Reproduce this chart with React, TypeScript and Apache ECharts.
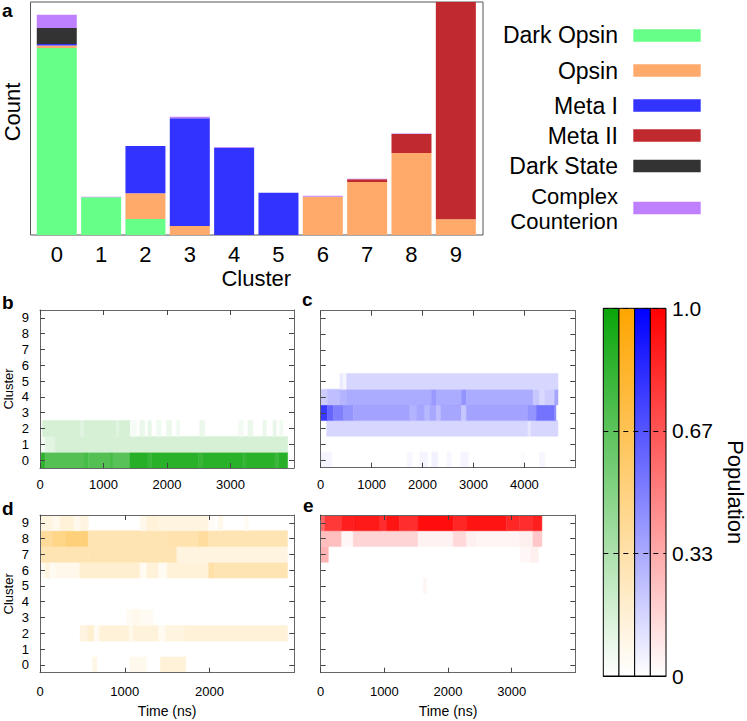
import React, { useEffect, useRef } from 'react';
import * as echarts from 'echarts';

// ---------- Panel a: stacked counts per cluster ----------
const clusters = ['0', '1', '2', '3', '4', '5', '6', '7', '8', '9'];
const stateNames = ['Dark Opsin', 'Opsin', 'Meta I', 'Meta II', 'Dark State', 'Complex Counterion'];
const stateColors = ['#66ff88', '#ffaa6b', '#3333ff', '#c0292e', '#333333', '#bf80ff'];
const darkOpsin = [187, 37.7, 16, 0, 0, 0, 0, 0, 0, 0];
const opsin = [2.6, 0, 25.7, 9, 0, 0, 38.3, 53, 82, 15.7];
const metaI = [1.3, 0, 47.3, 107.7, 87.3, 42.3, 0, 0, 0, 0];
const metaII = [0, 0, 0, 0, 0, 0, 0, 2.7, 19, 217.3];
const darkState = [16, 0, 0, 0, 0, 0, 0, 0, 0, 0];
const complexCounterion = [13.3, 0.6, 0, 1.6, 0.6, 0, 1, 0.6, 0.5, 0];
const stateCounts = [darkOpsin, opsin, metaI, metaII, darkState, complexCounterion];
const countMax = 233;

// ---------- Panels b-e: population per cluster over time ----------
// segments: [tStart (ns), tEnd (ns), cluster, population]
const clusterTicks = [0, 1, 2, 3, 4, 5, 6, 7, 8, 9];
const timeTicksB = [0, 1000, 2000, 3000];
const timeTicksC = [0, 1000, 2000, 3000, 4000];
const timeTicksD = [0, 1000, 2000];
const timeTicksE = [0, 1000, 2000, 3000];
const timeMaxB = 4000;
const timeMaxC = 5000;
const timeMaxD = 3000;
const timeMaxE = 4000;

const popB = [
  [0, 80, 0, 0.85], [80, 680, 0, 0.7], [680, 760, 0, 0.75], [760, 1100, 0, 0.7], [1100, 1150, 0, 0.75],
  [1150, 1415, 0, 0.68], [1415, 1700, 0, 0.88], [1700, 1760, 0, 0.82], [1760, 2500, 0, 0.87],
  [2500, 2560, 0, 0.82], [2560, 3200, 0, 0.87], [3200, 3260, 0, 0.83], [3260, 3700, 0, 0.87],
  [3700, 3760, 0, 0.8], [3760, 3900, 0, 0.88],
  [0, 80, 1, 0.05], [80, 240, 1, 0.12], [240, 3900, 1, 0.17],
  [40, 640, 2, 0.17], [640, 690, 2, 0.12], [690, 1200, 2, 0.17], [1200, 1250, 2, 0.13], [1250, 1415, 2, 0.17],
  [1440, 1520, 2, 0.04], [1570, 1650, 2, 0.08], [1700, 1755, 2, 0.1], [1835, 1910, 2, 0.06],
  [1990, 2070, 2, 0.08], [2150, 2200, 2, 0.06], [2515, 2595, 2, 0.08], [3120, 3200, 2, 0.05],
  [3275, 3355, 2, 0.08], [3510, 3565, 2, 0.08], [3670, 3720, 2, 0.1], [3775, 3825, 2, 0.06],
];

const popC = [
  [0, 215, 0, 0.04], [1700, 1800, 0, 0.03], [1950, 2100, 0, 0.04], [2180, 2300, 0, 0.05],
  [2480, 2560, 0, 0.03], [2750, 2900, 0, 0.04], [3940, 4000, 0, 0.02], [4300, 4400, 0, 0.03],
  [117, 4070, 2, 0.16], [4070, 4130, 2, 0.1], [4130, 4660, 2, 0.16],
  [0, 130, 3, 0.78], [130, 250, 3, 0.6], [250, 450, 3, 0.5], [450, 640, 3, 0.42], [640, 1750, 3, 0.36],
  [1750, 1880, 3, 0.3], [1880, 2045, 3, 0.35], [2045, 2140, 3, 0.28], [2140, 2275, 3, 0.34],
  [2275, 2360, 3, 0.25], [2360, 2765, 3, 0.35], [2765, 2860, 3, 0.22], [2860, 4070, 3, 0.36],
  [4070, 4235, 3, 0.42], [4235, 4595, 3, 0.55], [4595, 4620, 3, 0.45],
  [0, 130, 4, 0.2], [130, 380, 4, 0.25], [380, 510, 4, 0.3], [510, 2175, 4, 0.33], [2175, 2275, 4, 0.4],
  [2275, 2765, 4, 0.33], [2765, 2860, 4, 0.42], [2860, 4170, 4, 0.33], [4170, 4300, 4, 0.22],
  [4300, 4400, 4, 0.15], [4400, 4595, 4, 0.2], [4595, 4660, 4, 0.35],
  [378, 445, 5, 0.08], [445, 510, 5, 0.04], [510, 4660, 5, 0.16],
];

const popD = [
  [620, 670, 0, 0.1], [1060, 1260, 0, 0.07], [1420, 1720, 0, 0.15],
  [472, 560, 2, 0.12], [560, 640, 2, 0.18], [640, 700, 2, 0.05], [700, 1050, 2, 0.15], [1050, 1100, 2, 0.08],
  [1100, 1400, 2, 0.14], [1400, 1480, 2, 0.05], [1480, 1700, 2, 0.12], [1700, 2920, 2, 0.15],
  [1020, 1100, 3, 0.05], [1100, 1180, 3, 0.08], [1180, 1330, 3, 0.05],
  [0, 60, 6, 0.05], [60, 120, 6, 0.12], [120, 180, 6, 0.05], [180, 470, 6, 0.08], [470, 1180, 6, 0.18],
  [1180, 1260, 6, 0.05], [1260, 1400, 6, 0.15], [1400, 1500, 6, 0.05], [1500, 1990, 6, 0.15],
  [1990, 2060, 6, 0.35], [2060, 2920, 6, 0.3],
  [0, 570, 7, 0.3], [570, 1615, 7, 0.3], [1615, 2920, 7, 0.12],
  [0, 150, 8, 0.4], [150, 300, 8, 0.47], [300, 570, 8, 0.52], [570, 1500, 8, 0.3], [1500, 1870, 8, 0.32],
  [1870, 1990, 8, 0.38], [1990, 2920, 8, 0.3],
  [0, 150, 9, 0.12], [150, 240, 9, 0.08], [240, 400, 9, 0.15], [400, 480, 9, 0.08], [480, 570, 9, 0.12],
  [1180, 1260, 9, 0.08], [1260, 1400, 9, 0.15], [1400, 1990, 9, 0.12], [1990, 2060, 9, 0.04],
  [2100, 2160, 9, 0.08], [2420, 2460, 9, 0.05],
];

const popE = [
  [1610, 1660, 5, 0.04],
  [0, 120, 7, 0.3], [3130, 3300, 7, 0.03], [3300, 3420, 7, 0.06],
  [0, 330, 8, 0.25], [330, 510, 8, 0.03], [510, 1530, 8, 0.17], [1530, 2080, 8, 0.05], [2080, 2290, 8, 0.15],
  [2290, 2445, 8, 0.06], [2445, 3125, 8, 0.04], [3125, 3335, 8, 0.06], [3335, 3475, 8, 0.22],
  [0, 68, 9, 0.6], [68, 330, 9, 0.78], [330, 510, 9, 0.88], [510, 930, 9, 0.9], [930, 1033, 9, 0.82],
  [1033, 1240, 9, 0.92], [1240, 1530, 9, 0.82], [1530, 2080, 9, 0.95], [2080, 2290, 9, 0.85],
  [2290, 2915, 9, 0.92], [2915, 3125, 9, 0.85], [3125, 3330, 9, 0.82], [3330, 3475, 9, 0.88],
];

// colour bar
const popColors = ['#0aa50a', '#ffa500', '#0000ff', '#ff0000'];
const popColorNames = ['green', 'orange', 'blue', 'red'];

const FONT = 'Liberation Sans';

function hexToRgb(h: string) {
  const n = parseInt(h.slice(1), 16);
  return [(n >> 16) & 255, (n >> 8) & 255, n & 255];
}
function mix(top: string, v: number) {
  const c = hexToRgb(top);
  const r = Math.round(255 + (c[0] - 255) * v);
  const g = Math.round(255 + (c[1] - 255) * v);
  const b = Math.round(255 + (c[2] - 255) * v);
  return `rgb(${r},${g},${b})`;
}

const LINE = '#666';
const TICK = '#444';
const plain = (v: number) => String(v);

function heatAxes(idx: number, max: number, ticks: number[], showY: boolean, xMargin: number, withName: boolean) {
  const xBottom: any = {
    type: 'value', gridIndex: idx, min: 0, max, position: 'bottom', z: 5,
    axisLine: { show: true, onZero: false, lineStyle: { color: LINE, width: 1 } },
    axisTick: { show: true, inside: true, length: 5, customValues: ticks, lineStyle: { color: TICK } },
    axisLabel: { show: true, customValues: ticks, formatter: plain, margin: xMargin, color: '#000', fontSize: 13, fontFamily: FONT },
    splitLine: { show: false },
  };
  if (withName) {
    Object.assign(xBottom, {
      name: 'Time (ns)', nameLocation: 'middle', nameGap: 31,
      nameTextStyle: { color: '#000', fontSize: 14, fontFamily: FONT },
    });
  }
  const xTop: any = {
    type: 'value', gridIndex: idx, min: 0, max, position: 'top', z: 5,
    axisLine: { show: true, onZero: false, lineStyle: { color: LINE, width: 1 } },
    axisTick: { show: true, inside: true, length: 5, customValues: ticks, lineStyle: { color: TICK } },
    axisLabel: { show: false },
    splitLine: { show: false },
  };
  const yLeft: any = {
    type: 'value', gridIndex: idx, min: -0.5, max: 9.5, position: 'left', z: 5,
    axisLine: { show: true, onZero: false, lineStyle: { color: LINE, width: 1 } },
    axisTick: { show: true, inside: true, length: 5, customValues: clusterTicks, lineStyle: { color: TICK } },
    axisLabel: { show: showY, customValues: clusterTicks, formatter: plain, margin: 11, color: '#000', fontSize: 13, fontFamily: FONT },
    splitLine: { show: false },
  };
  if (showY) {
    Object.assign(yLeft, {
      name: 'Cluster', nameLocation: 'middle', nameGap: 25,
      nameTextStyle: { color: '#000', fontSize: 13, fontFamily: FONT },
    });
  }
  const yRight: any = {
    type: 'value', gridIndex: idx, min: -0.5, max: 9.5, position: 'right', z: 5,
    axisLine: { show: true, onZero: false, lineStyle: { color: LINE, width: 1 } },
    axisTick: { show: true, inside: true, length: 5, customValues: clusterTicks, lineStyle: { color: TICK } },
    axisLabel: { show: false },
    splitLine: { show: false },
  };
  return { x: [xBottom, xTop], y: [yLeft, yRight] };
}

function heatSeries(xIdx: number, yIdx: number, data: number[][], top: string) {
  return {
    type: 'custom',
    xAxisIndex: xIdx,
    yAxisIndex: yIdx,
    clip: true,
    data,
    encode: { x: [0, 1], y: 2 },
    renderItem: (_params: any, api: any) => {
      const t0 = api.value(0);
      const t1 = api.value(1);
      const r = api.value(2);
      const v = api.value(3);
      const a = api.coord([t0, r + 0.5]);
      const b = api.coord([t1, r - 0.5]);
      const fill = mix(top, v);
      return {
        type: 'rect',
        shape: { x: a[0], y: a[1], width: b[0] - a[0], height: b[1] - a[1] },
        style: { fill, stroke: fill, lineWidth: 0.5 },
      };
    },
  };
}

export default function App() {
  const ref = useRef<HTMLDivElement>(null);
  useEffect(() => {
    if (!ref.current) return;
    const chart = echarts.init(ref.current, undefined, { renderer: 'svg' });

    const axB = heatAxes(1, timeMaxB, timeTicksB, true, 10, false);
    const axC = heatAxes(2, timeMaxC, timeTicksC, false, 10, false);
    const axD = heatAxes(3, timeMaxD, timeTicksD, true, 12, true);
    const axE = heatAxes(4, timeMaxE, timeTicksE, false, 12, true);

    const grids = [
      { left: 34.6, top: 2, width: 443.4, height: 233 },
      { left: 40, top: 310, width: 254, height: 158 },
      { left: 320.7, top: 310.7, width: 254.6, height: 157 },
      { left: 40, top: 515, width: 254.3, height: 157.7 },
      { left: 320.7, top: 515, width: 254.6, height: 157.7 },
      { left: 603.3, top: 308.3, width: 62.7, height: 367.7 },
      // frame of panel a
      { left: 30.5, top: 2, width: 452.5, height: 233, show: true, borderColor: '#555', borderWidth: 1, backgroundColor: 'transparent', z: 0 },
    ];

    const xAxes: any[] = [
      {
        type: 'category', gridIndex: 0, data: clusters, boundaryGap: true,
        axisLine: { show: false }, axisTick: { show: false }, splitLine: { show: false },
        axisLabel: { margin: 8, color: '#000', fontSize: 22, fontFamily: FONT },
        name: 'Cluster', nameLocation: 'middle', nameGap: 32,
        nameTextStyle: { color: '#000', fontSize: 22, fontFamily: FONT },
      },
      ...axB.x, ...axC.x, ...axD.x, ...axE.x,
      {
        type: 'category', gridIndex: 5, data: popColorNames, z: 6,
        axisLine: { show: true, lineStyle: { color: '#000', width: 1 } },
        axisTick: { show: false }, axisLabel: { show: false }, splitLine: { show: false },
      },
    ];
    const yAxes: any[] = [
      {
        type: 'value', gridIndex: 0, min: 0, max: countMax,
        axisLine: { show: false }, axisTick: { show: false }, splitLine: { show: false },
        axisLabel: { show: false },
      },
      ...axB.y, ...axC.y, ...axD.y, ...axE.y,
      {
        type: 'value', gridIndex: 5, min: 0, max: 1, interval: 1 / 3, position: 'right', z: 5,
        axisLine: { show: false }, axisTick: { show: false },
        splitLine: { show: true, lineStyle: { color: '#000', type: [5, 5], width: 1 } },
        axisLabel: {
          margin: 6, color: '#000', fontSize: 21, fontFamily: FONT,
          formatter: (v: number) => (v < 0.01 ? '0' : v > 0.99 ? '1.0' : v.toFixed(2)),
        },
        name: 'Population', nameLocation: 'middle', nameRotate: -90, nameGap: 58,
        nameTextStyle: { color: '#000', fontSize: 22, fontFamily: FONT },
      },
    ];

    const barSeries = stateNames.map((name, i) => ({
      type: 'bar', name, stack: 'count', xAxisIndex: 0, yAxisIndex: 0,
      barWidth: 40,
      itemStyle: { color: stateColors[i] },
      data: stateCounts[i],
    }));

    const colorbarSeries = {
      type: 'custom', xAxisIndex: 9, yAxisIndex: 9,
      data: popColors.map((_c, i) => [i, 1]),
      encode: { x: 0, y: 1 },
      renderItem: (params: any, api: any) => {
        const i = api.value(0);
        const tp = api.coord([i, 1]);
        const bp = api.coord([i, 0]);
        const w = api.size([1, 0])[0];
        return {
          type: 'rect',
          shape: { x: tp[0] - w / 2, y: tp[1], width: w, height: bp[1] - tp[1] },
          style: {
            fill: new echarts.graphic.LinearGradient(0, 0, 0, 1, [
              { offset: 0, color: popColors[params.dataIndex] },
              { offset: 1, color: '#ffffff' },
            ]),
            stroke: '#000',
            lineWidth: 1,
          },
        };
      },
    };

    const legendTexts: [string, number, number][] = [
      ['Dark Opsin', 35, 23], ['Opsin', 70.7, 23], ['Meta I', 106, 23], ['Meta II', 135.7, 23], ['Dark State', 165.7, 23],
      ['Complex', 196, 22], ['Counterion', 221.5, 22],
    ];
    const legendRects = [35.5, 70.5, 105.5, 135.5, 166, 208];
    const graphics: any[] = [];
    legendTexts.forEach(([t, y, fs]) => {
      graphics.push({
        type: 'text', x: 618, y,
        style: {
          text: t, align: 'right', verticalAlign: 'middle', fill: '#000',
          fontSize: fs, fontFamily: FONT, lineHeight: 22,
        },
      });
    });
    stateColors.forEach((c, i) => {
      graphics.push({
        type: 'rect', shape: { x: 633.3, y: legendRects[i] - 6.2, width: 67.4, height: 12.4 },
        style: { fill: c },
      });
    });
    graphics.push({
      type: 'text', x: 12.5, y: 112, rotation: Math.PI / 2,
      style: { text: 'Count', align: 'center', verticalAlign: 'middle', fill: '#000', fontSize: 22, fontFamily: FONT },
    });
    const panelLabels = [['a', 2, 10], ['b', 2, 302], ['c', 302, 299], ['d', 2, 508], ['e', 303, 505]];
    panelLabels.forEach(([t, x, y]) => {
      graphics.push({
        type: 'text', x, y,
        style: { text: t, fill: '#000', fontSize: 19, fontWeight: 'bold', fontFamily: FONT, verticalAlign: 'middle' },
      });
    });

    chart.setOption({
      animation: false,
      textStyle: { fontFamily: FONT },
      grid: grids,
      xAxis: xAxes,
      yAxis: yAxes,
      series: [
        ...barSeries,
        heatSeries(1, 1, popB, popColors[0]),
        heatSeries(3, 3, popC, popColors[2]),
        heatSeries(5, 5, popD, popColors[1]),
        heatSeries(7, 7, popE, popColors[3]),
        colorbarSeries,
      ],
      graphic: graphics,
    });
    return () => chart.dispose();
  }, []);
  return <div ref={ref} style={{ position: 'fixed', left: 0, top: 0, width: 747, height: 721, background: '#fff' }} />;
}
